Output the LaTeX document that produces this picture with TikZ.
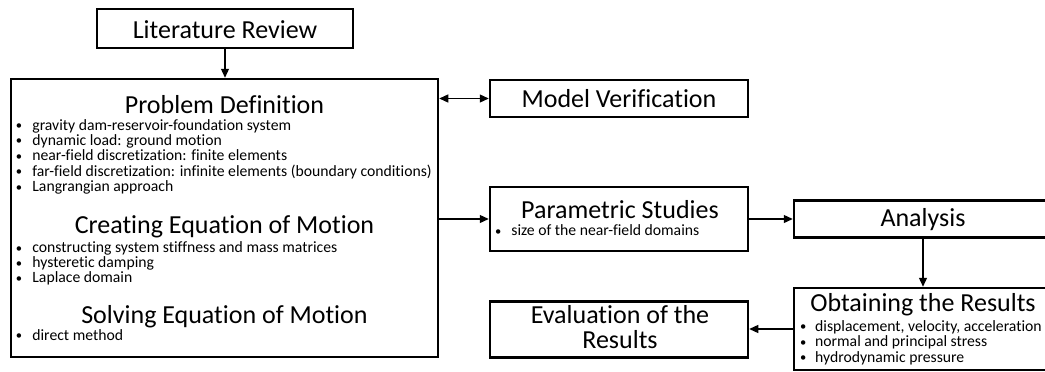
\documentclass[tikz,border=0pt]{standalone}
\usepackage{fontspec}
\setmainfont{Carlito}[Ligatures=CommonOff]
\usetikzlibrary{arrows.meta}
\newcommand\itm[1][16.4pt]{\makebox[#1][l]{\raisebox{0.5pt}{\scalebox{0.8}{•}}}}
\begin{document}
\begin{tikzpicture}[x=1pt,y=-1pt,
  box/.style 2 args={draw,line width=2.5pt,inner sep=0pt,minimum width=#1,minimum height=#2},
  title/.style={anchor=base,inner sep=0pt,font=\fontsize{26pt}{28pt}\selectfont},
  bul/.style={anchor=base west,inner sep=0pt,font=\fontsize{15.7pt}{15.4pt}\selectfont},
  arr/.style={line width=1.3pt,-{Triangle[length=9pt,width=8pt]}},
  arrb/.style={line width=1.3pt,{Triangle[length=9pt,width=8pt]}-{Triangle[length=9pt,width=8pt]}}]
\useasboundingbox (0,0) rectangle (1045,372);
\clip (0,0) rectangle (1045,372);
% boxes
\node[box={256pt}{39pt}] (lr) at (225,28.5) {};
\node[box={427pt}{278pt}] (pd) at (224.5,218) {};
\node[box={258pt}{37pt}] (mv) at (619,98.5) {};
\node[box={258pt}{64pt}] (ps) at (619,219) {};
\node[box={258pt}{37pt}] (an) at (923,219) {};
\node[box={258pt}{82pt}] (or) at (923,329) {};
\node[box={258pt}{56pt}] (ev) at (619,329.5) {};
% titles
\node[title] (lrT) at (225,38) {Literature Review};
\node[title] (pdT) at (224.5,113) {Problem Definition};
\node[title] (ceT) at (224.5,233.5) {Creating Equation of Motion};
\node[title] (seT) at (224.5,323) {Solving Equation of Motion};
\node[title] (mvT) at (619,107) {Model Verification};
\node[title] (psT) at (620,218) {Parametric Studies};
\node[title] (anT) at (923,226) {Analysis};
\node[title] (orT) at (923,311) {Obtaining the Results};
\node[title] (evT1) at (620,323) {Evaluation of the};
\node[title] (evT2) at (620,348) {Results};
% bullet lists
\foreach \t [count=\i from 0] in {gravity dam-reservoir-foundation system,
  dynamic load: ground motion,
  near-field discretization: finite elements,
  far-field discretization: infinite elements (boundary conditions),
  Langrangian approach}
  \node[bul] (pdb\i) at (15.8,130+15.4*\i) {\itm\t};
\foreach \t [count=\i from 0] in {constructing system stiffness and mass matrices,
  hysteretic damping,
  Laplace domain}
  \node[bul] (ceb\i) at (15.8,252.5+15*\i) {\itm\t};
\node[bul] (seb0) at (15.8,340) {\itm direct method};
\node[bul] (psb0) at (494.8,235.5) {\itm size of the near-field domains};
\foreach \t [count=\i from 0] in {{displacement, velocity, acceleration},
  normal and principal stress,
  hydrodynamic pressure}
  \node[bul] (orb\i) at (799.8,331+15.5*\i) {\itm[15.2pt]\t};
% connectors
\draw[arr] (lr.south) -- (lr.south |- pd.north);
\draw[arrb] (pd.east |- mv.west) -- (mv.west);
\draw[arr] (pd.east |- ps.west) -- (ps.west);
\draw[arr] (ps.east) -- (ps.east -| an.west);
\draw[arr] (an.south) -- (or.north);
\draw[arr] (or.west) -- (or.west -| ev.east);
\end{tikzpicture}
\end{document}
